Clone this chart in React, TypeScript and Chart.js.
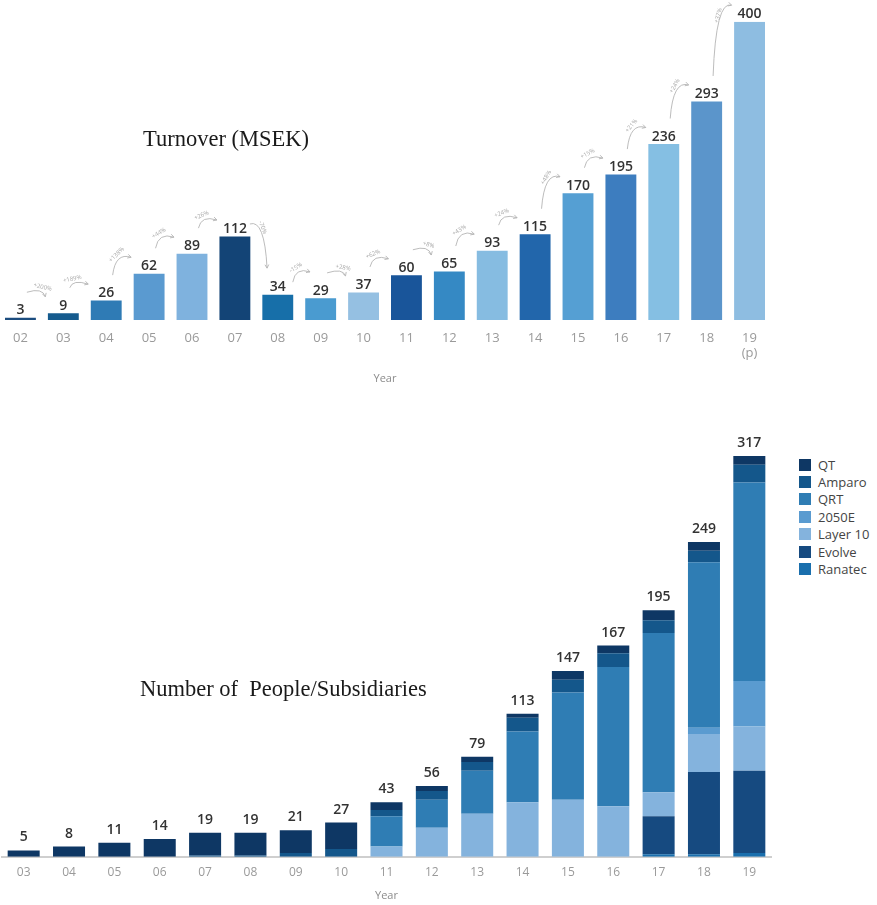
import React, { useEffect, useRef } from "react";
import { Chart, registerables } from "chart.js";

Chart.register(...registerables);

// ---------- Turnover data ----------
const turnoverYears: (string | string[])[] = [
  "02", "03", "04", "05", "06", "07", "08", "09", "10",
  "11", "12", "13", "14", "15", "16", "17", "18", ["19", "(p)"],
];
const turnoverValues = [3, 9, 26, 62, 89, 112, 34, 29, 37, 60, 65, 93, 115, 170, 195, 236, 293, 400];
const turnoverColors = [
  "#1c4d7f", "#155b8e", "#2f7bb5", "#5a9ad0", "#7fb2de", "#134476", "#176fa9", "#4a9bd0", "#95c0e2",
  "#19559a", "#3589c4", "#86bce1", "#2266ab", "#559fd3", "#3d7dbf", "#85bfe3", "#5b95cb", "#8ebde1",
];
const growthLabels = [
  "+200%", "+189%", "+138%", "+44%", "+26%", "-70%", "-15%", "+28%", "+62%",
  "+8%", "+43%", "+24%", "+48%", "+15%", "+21%", "+24%", "+37%",
];

// ---------- People / subsidiaries data ----------
const peopleYears = ["03", "04", "05", "06", "07", "08", "09", "10", "11", "12", "13", "14", "15", "16", "17", "18", "19"];
const qt = [5, 8, 11, 14, 18, 18, 18, 21, 6, 4, 4, 3, 7, 6, 8, 7, 7];
const amparo = [0, 0, 0, 0, 1, 1, 3, 6, 5, 7, 7, 11, 10, 11, 10, 9, 14];
const qrt = [0, 0, 0, 0, 0, 0, 0, 0, 24, 22, 34, 56, 85, 110, 126, 131, 157];
const e2050 = [0, 0, 0, 0, 0, 0, 0, 0, 0, 0, 0, 0, 0, 0, 0, 5, 36];
const layer10 = [0, 0, 0, 0, 0, 0, 0, 0, 8, 23, 34, 43, 45, 40, 19, 30, 35];
const evolve = [0, 0, 0, 0, 0, 0, 0, 0, 0, 0, 0, 0, 0, 0, 30, 65, 65];
const ranatec = [0, 0, 0, 0, 0, 0, 0, 0, 0, 0, 0, 0, 0, 0, 2, 2, 3];

const seriesLegend = ["QT", "Amparo", "QRT", "2050E", "Layer 10", "Evolve", "Ranatec"];
const seriesColors: Record<string, string> = {
  QT: "#0e3764",
  Amparo: "#14578b",
  QRT: "#2f7db4",
  "2050E": "#5a9bd0",
  "Layer 10": "#84b3dd",
  Evolve: "#164a80",
  Ranatec: "#1a6fad",
};

const SANS = "'Open Sans', 'Noto Sans', sans-serif";
const SERIF = "'Liberation Serif', 'Times New Roman', serif";

const turnoverPlugin = {
  id: "turnoverDecor",
  afterDatasetsDraw(chart: any) {
    const { ctx } = chart;
    const bars = chart.getDatasetMeta(0).data;
    ctx.save();
    ctx.font = `600 14px ${SANS}`;
    ctx.fillStyle = "#333";
    ctx.textAlign = "center";
    ctx.textBaseline = "alphabetic";
    bars.forEach((bar: any, i: number) => {
      ctx.fillText(String(turnoverValues[i]), bar.x, bar.y - 3.5);
    });

    const step = bars.length > 1 ? bars[1].x - bars[0].x : 40;
    ctx.strokeStyle = "#b4b4b4";
    ctx.fillStyle = "#a8a8a8";
    ctx.lineWidth = 0.9;
    for (let i = 0; i < bars.length - 1; i++) {
      const a = bars[i];
      const b = bars[i + 1];
      const ta = a.y - 13.5;
      const tb = b.y - 13.5;
      let p0: { x: number; y: number };
      let p1: { x: number; y: number };
      if (turnoverValues[i + 1] >= turnoverValues[i]) {
        p0 = { x: a.x + 0.15 * step, y: ta - 12 };
        p1 = { x: b.x - 0.42 * step, y: tb - 3 };
      } else {
        p0 = { x: a.x + 0.35 * step, y: ta + 1 };
        p1 = { x: b.x - 0.25 * step, y: tb - 13 };
      }
      const asc = p1.y < p0.y;
      const c = {
        x: asc ? p0.x + (p1.x - p0.x) * 0.15 : p0.x + (p1.x - p0.x) * 0.85,
        y: Math.min(p0.y, p1.y) - 5,
      };
      ctx.beginPath();
      ctx.moveTo(p0.x, p0.y);
      ctx.quadraticCurveTo(c.x, c.y, p1.x, p1.y);
      ctx.stroke();
      // arrow head
      const ang = Math.atan2(p1.y - c.y, p1.x - c.x);
      const hl = 4;
      ctx.beginPath();
      ctx.moveTo(p1.x - hl * Math.cos(ang - 0.5), p1.y - hl * Math.sin(ang - 0.5));
      ctx.lineTo(p1.x, p1.y);
      ctx.lineTo(p1.x - hl * Math.cos(ang + 0.5), p1.y - hl * Math.sin(ang + 0.5));
      ctx.stroke();
      // label
      const m = {
        x: 0.25 * p0.x + 0.5 * c.x + 0.25 * p1.x,
        y: 0.25 * p0.y + 0.5 * c.y + 0.25 * p1.y,
      };
      const mid = { x: (p0.x + p1.x) / 2, y: (p0.y + p1.y) / 2 };
      let nx = m.x - mid.x;
      let ny = m.y - mid.y;
      const nl = Math.hypot(nx, ny);
      if (nl < 0.5) {
        nx = 0;
        ny = -1;
      } else {
        nx /= nl;
        ny /= nl;
      }
      let rot = Math.atan2(p1.y - p0.y, p1.x - p0.x);
      const tx = 0.5 * (p1.x - p0.x) + 0.5 * (p1.x - p0.x);
      void tx;
      const tang = Math.atan2((c.y - p0.y) + (p1.y - c.y), (c.x - p0.x) + (p1.x - c.x));
      rot = tang;
      if (rot > Math.PI / 2) rot -= Math.PI;
      if (rot < -Math.PI / 2) rot += Math.PI;
      ctx.save();
      ctx.translate(m.x + nx * 5, m.y + ny * 5);
      ctx.rotate(rot);
      ctx.font = `6px ${SANS}`;
      ctx.textAlign = "center";
      ctx.textBaseline = "middle";
      ctx.fillText(growthLabels[i], 0, 0);
      ctx.restore();
    }
    ctx.restore();
  },
};

const peopleTotalsPlugin = {
  id: "peopleTotals",
  afterDatasetsDraw(chart: any) {
    const { ctx } = chart;
    const meta0 = chart.getDatasetMeta(0);
    const yScale = chart.scales.y;
    ctx.save();
    ctx.font = `600 14px ${SANS}`;
    ctx.fillStyle = "#333";
    ctx.textAlign = "center";
    ctx.textBaseline = "alphabetic";
    peopleYears.forEach((_, i) => {
      const total = qt[i] + amparo[i] + qrt[i] + e2050[i] + layer10[i] + evolve[i] + ranatec[i];
      const x = meta0.data[i].x;
      const y = yScale.getPixelForValue(total);
      ctx.fillText(String(total), x, y - 9);
    });
    ctx.restore();
  },
};

export default function App() {
  const topRef = useRef<HTMLCanvasElement>(null);
  const botRef = useRef<HTMLCanvasElement>(null);

  useEffect(() => {
    const top = new Chart(topRef.current as HTMLCanvasElement, {
      type: "bar",
      data: {
        labels: turnoverYears as any,
        datasets: [
          {
            label: "Turnover (MSEK)",
            data: turnoverValues,
            backgroundColor: turnoverColors,
            borderWidth: 0,
            barPercentage: 0.72,
            categoryPercentage: 1,
          },
        ],
      },
      options: {
        responsive: false,
        animation: false,
        layout: { padding: { top: 21.7, left: 0, right: 0, bottom: 0 } },
        plugins: { legend: { display: false }, tooltip: { enabled: false } },
        scales: {
          x: {
            grid: { display: false, drawTicks: false },
            border: { display: false },
            ticks: {
              color: "#9a9a9a",
              font: { family: SANS, size: 13 },
              padding: 10,
              autoSkip: false,
              maxRotation: 0,
            },
            title: {
              display: true,
              text: "Year",
              color: "#8c8c8c",
              font: { family: SANS, size: 11 },
              padding: { top: 0, bottom: 10 },
            },
            afterFit: (s: any) => {
              s.height = 75;
            },
          },
          y: { display: false, min: 0, max: 400 },
        },
      },
      plugins: [turnoverPlugin],
    });

    const stackOrder = [
      { name: "Ranatec", data: ranatec },
      { name: "Evolve", data: evolve },
      { name: "Layer 10", data: layer10 },
      { name: "2050E", data: e2050 },
      { name: "QRT", data: qrt },
      { name: "Amparo", data: amparo },
      { name: "QT", data: qt },
    ];

    const bottom = new Chart(botRef.current as HTMLCanvasElement, {
      type: "bar",
      data: {
        labels: peopleYears,
        datasets: stackOrder.map((s) => ({
          label: s.name,
          data: s.data,
          backgroundColor: seriesColors[s.name],
          borderWidth: 0,
          barPercentage: 0.706,
          categoryPercentage: 1,
        })),
      },
      options: {
        responsive: false,
        animation: false,
        layout: { padding: { top: 26, left: 0, right: 0, bottom: 0 } },
        plugins: { legend: { display: false }, tooltip: { enabled: false } },
        scales: {
          x: {
            stacked: true,
            grid: { display: false, drawTicks: false },
            border: { display: true, color: "#cfcfcf", width: 2 },
            ticks: {
              color: "#9a9a9a",
              font: { family: SANS, size: 12 },
              padding: 9,
              autoSkip: false,
              maxRotation: 0,
            },
            title: {
              display: true,
              text: "Year",
              color: "#8c8c8c",
              font: { family: SANS, size: 11 },
              padding: { top: 0, bottom: 3 },
            },
            afterFit: (s: any) => {
              s.height = 48.3;
            },
          },
          y: { stacked: true, display: false, min: 0, max: 317 },
        },
      },
      plugins: [peopleTotalsPlugin],
    });

    return () => {
      top.destroy();
      bottom.destroy();
    };
  }, []);

  return (
    <div
      style={{
        position: "absolute",
        left: 0,
        top: 0,
        width: 877,
        height: 905,
        overflow: "hidden",
        background: "#ffffff",
      }}
    >
      <canvas ref={topRef} width={772} height={395} style={{ position: "absolute", left: -1, top: 0 }} />
      <div
        style={{
          position: "absolute",
          left: 143,
          top: 128,
          fontFamily: SERIF,
          fontSize: 22.5,
          lineHeight: 1,
          color: "#1a1a1a",
          whiteSpace: "pre",
        }}
      >
        Turnover (MSEK)
      </div>
      <canvas ref={botRef} width={771} height={475} style={{ position: "absolute", left: 1, top: 430 }} />
      <div
        style={{
          position: "absolute",
          left: 140,
          top: 678,
          fontFamily: SERIF,
          fontSize: 22.5,
          lineHeight: 1,
          color: "#1a1a1a",
          whiteSpace: "pre",
        }}
      >
        {"Number of  People/Subsidiaries"}
      </div>
      <div style={{ position: "absolute", left: 799, top: 456, fontFamily: SANS, fontSize: 13, color: "#444" }}>
        {seriesLegend.map((name) => (
          <div key={name} style={{ display: "flex", alignItems: "center", height: 17.4, whiteSpace: "nowrap" }}>
            <span style={{ display: "inline-block", width: 12, height: 12, background: seriesColors[name] }} />
            <span style={{ marginLeft: 7 }}>{name}</span>
          </div>
        ))}
      </div>
    </div>
  );
}
